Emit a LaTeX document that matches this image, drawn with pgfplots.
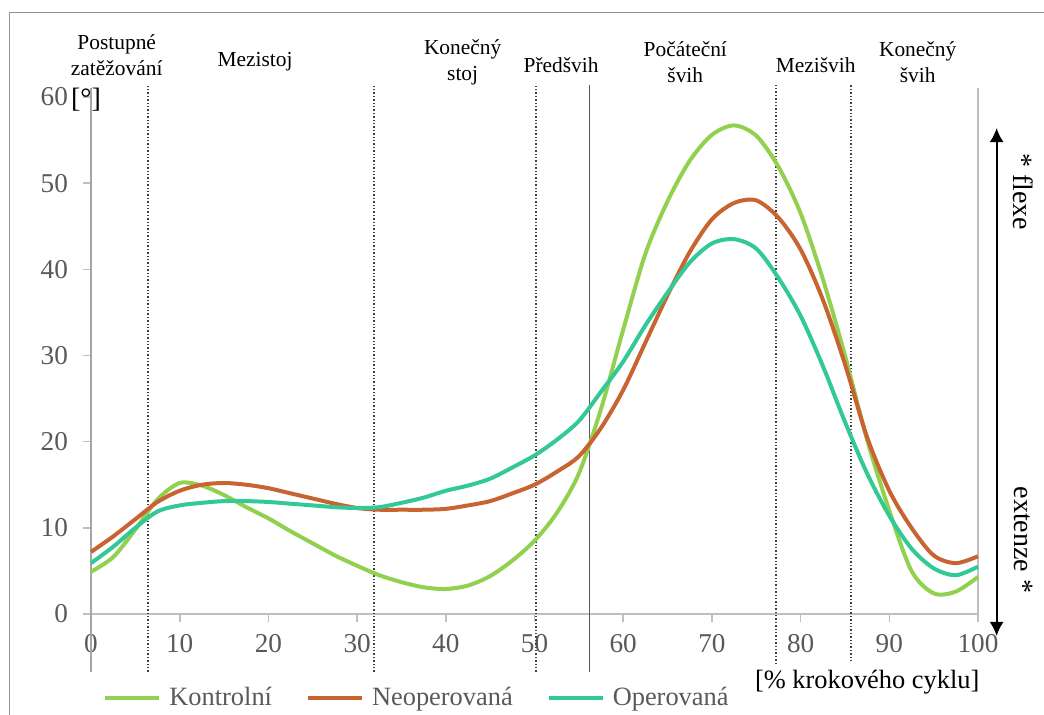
\documentclass[border=0pt]{standalone}
\usepackage{fontspec}
\setmainfont{Liberation Serif}
\usepackage{pgfplots}
\pgfplotsset{compat=1.18}
\usetikzlibrary{arrows.meta}
\definecolor{cK}{RGB}{146,208,80}
\definecolor{cN}{RGB}{200,100,50}
\definecolor{cO}{RGB}{51,201,150}
\definecolor{tgray}{RGB}{89,89,89}
\definecolor{agray}{RGB}{191,191,191}
\definecolor{lgray}{RGB}{166,166,166}
\begin{document}
\begin{tikzpicture}
\useasboundingbox (0,0) rectangle (522pt,357.5pt);
\draw[gray!85, line width=0.6pt] (4.75pt,-2pt) -- (4.75pt,351.35pt) -- (525pt,351.35pt);
\begin{axis}[
  at={(45.5pt,50.5pt)}, anchor=south west,
  scale only axis, width=443.5pt, height=258.5pt,
  xmin=0, xmax=100, ymin=0, ymax=60,
  clip=false,
  axis lines*=left,
  axis line style={agray, line width=0.8pt},
  xtick={0,10,...,100}, ytick={0,10,...,60},
  tick align=outside, major tick length=4pt,
  tick style={agray, line width=0.8pt},
  ticklabel style={font=\fontsize{13.6}{16}\selectfont, text=tgray},
  /pgf/number format/assume math mode=true,
  yticklabel style={xshift=-4pt},
  xticklabel style={yshift=-2.75pt},
  legend columns=3,
  legend style={at={(axis cs:1.35,-9.7)}, anchor=west, draw=none, fill=none,
    inner sep=0pt, nodes={inner sep=0pt, font=\fontsize{13.2}{16}\selectfont, text=tgray},
    /tikz/every odd column/.append style={column sep=4pt},
    /tikz/every even column/.append style={column sep=17pt}},
  legend image code/.code={\draw[#1] (0pt,0pt) -- (27pt,0pt);},
]
% phase dividers
\addplot[forget plot, black!75, line width=0.8pt, dash pattern=on 0.7pt off 1pt] coordinates {(6.4,-6.7) (6.4,61.4)};
\addplot[forget plot, black!75, line width=0.8pt, dash pattern=on 0.7pt off 1pt] coordinates {(31.9,-6.7) (31.9,61.4)};
\addplot[forget plot, black!75, line width=0.8pt, dash pattern=on 0.7pt off 1pt] coordinates {(50.2,-6.7) (50.2,61.4)};
\addplot[forget plot, black!75, line width=0.8pt, dash pattern=on 0.7pt off 1pt] coordinates {(77.2,-5.8) (77.2,61.4)};
\addplot[forget plot, black!75, line width=0.8pt, dash pattern=on 0.7pt off 1pt] coordinates {(85.7,-5.5) (85.7,61.4)};
\addplot[forget plot, black!65, line width=0.8pt] coordinates {(56.2,-6.7) (56.2,61.4)};
\addplot[forget plot, lgray, line width=0.9pt] coordinates {(0,-6.7) (0,61.1)};
\addplot[forget plot, agray, line width=0.6pt] coordinates {(100,-0.9) (100,61.1)};

\addplot[cK, line width=2pt, smooth] coordinates {
(0,4.9) (2.5,6.6) (5,9.8) (7.5,13.3) (10,15.2) (12.5,14.9) (15,13.8) (17.5,12.4)
(20,11.1) (22.5,9.6) (25,8.2) (27.5,6.8) (30,5.6) (32.5,4.5) (35,3.7) (37.5,3.1)
(40,2.9) (42.5,3.3) (45,4.4) (47.5,6.2) (50,8.5) (52.5,11.7) (55,16.3) (57.5,23.8)
(60,33.0) (62.5,41.8) (65,47.9) (67.5,52.6) (70,55.6) (72.5,56.7) (75,55.5) (77.5,51.9)
(80,46.5) (82.5,38.9) (85,30.0) (87.5,20.2) (90,12.0) (92.5,5.0) (95,2.4) (97.5,2.6) (100,4.3)};
\addlegendentry{Kontrolní}

\addplot[cN, line width=2pt, smooth] coordinates {
(0,7.2) (2.5,9.0) (5,11.0) (7.5,13.0) (10,14.3) (12.5,15.0) (15,15.2) (17.5,15.0)
(20,14.6) (22.5,14.0) (25,13.4) (27.5,12.8) (30,12.3) (32.5,12.1) (35,12.1) (37.5,12.1)
(40,12.2) (42.5,12.6) (45,13.1) (47.5,14.0) (50,15.0) (52.5,16.5) (55,18.3) (57.5,21.6)
(60,26.0) (62.5,31.5) (65,37.0) (67.5,42.0) (70,45.8) (72.5,47.7) (75,48.0) (77.5,46.0)
(80,42.3) (82.5,36.5) (85,29.0) (87.5,20.5) (90,14.3) (92.5,10.0) (95,6.8) (97.5,5.9) (100,6.7)};
\addlegendentry{Neoperovaná}

\addplot[cO, line width=2pt, smooth] coordinates {
(0,5.9) (2.5,7.8) (5,10.0) (7.5,11.9) (10,12.6) (12.5,12.9) (15,13.1) (17.5,13.1)
(20,13.0) (22.5,12.8) (25,12.6) (27.5,12.4) (30,12.3) (32.5,12.4) (35,12.9) (37.5,13.5)
(40,14.3) (42.5,14.9) (45,15.7) (47.5,17.0) (50,18.4) (52.5,20.2) (55,22.4) (57.5,25.8)
(60,29.3) (62.5,33.5) (65,37.3) (67.5,40.8) (70,43.0) (72.5,43.5) (75,42.4) (77.5,39.0)
(80,34.6) (82.5,28.8) (85,22.3) (87.5,16.3) (90,11.4) (92.5,7.6) (95,5.3) (97.5,4.5) (100,5.5)};
\addlegendentry{Operovaná}

% flexion/extension arrow
\addplot[forget plot, black, line width=1pt, {Latex[length=7pt,width=7pt]}-{Latex[length=7pt,width=7pt]}] coordinates {(102.1,-2.55) (102.1,56.4)};

\node[rotate=-90, font=\fontsize{14}{16}\selectfont] at (axis cs:105.1,49) {* flexe};
\node[rotate=-90, font=\fontsize{14}{16}\selectfont] at (axis cs:105.1,8.6) {extenze *};
\node[anchor=east, font=\fontsize{13.2}{16}\selectfont, inner sep=0pt] at (axis cs:100.2,-7.9) {[\% krokového cyklu]};
\node[font=\fontsize{14}{16}\selectfont, inner sep=0pt] at (axis cs:-0.56,59.65) {[°]};

% phase labels
\begin{scope}[every node/.style={align=center, font=\fontsize{10.7}{13}\selectfont, inner sep=0pt}]
\node at (axis cs:2.9,64.8) {Postupné\\zatěžování};
\node at (axis cs:18.5,64.06) {Mezistoj};
\node at (axis cs:41.9,64.06) {Konečný\\stoj};
\node at (axis cs:53.0,63.7) {Předšvih};
\node at (axis cs:67.0,64.06) {Počáteční\\švih};
\node at (axis cs:81.7,63.7) {Mezišvih};
\node at (axis cs:93.2,64.06) {Konečný\\švih};
\end{scope}
\end{axis}
\end{tikzpicture}
\end{document}
